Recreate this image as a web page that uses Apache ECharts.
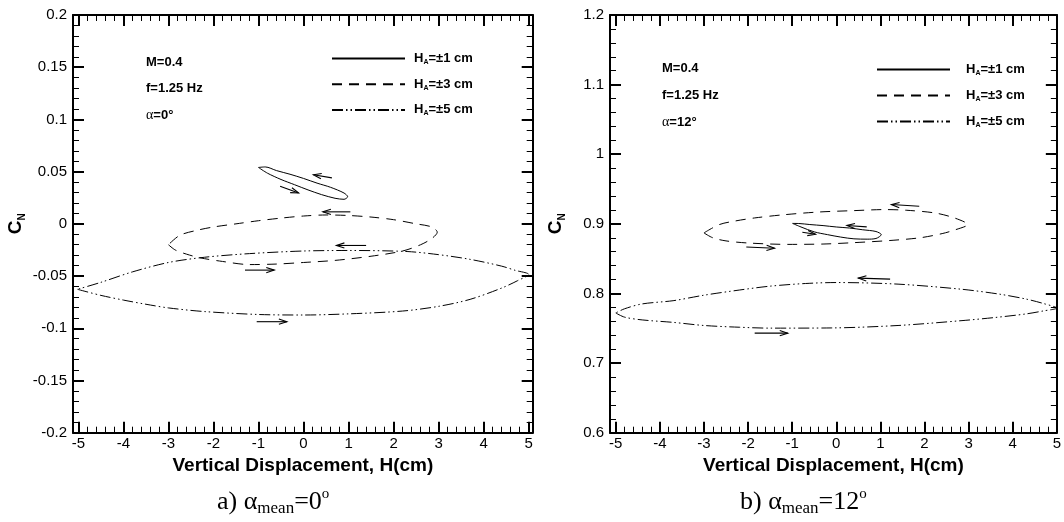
<!DOCTYPE html>
<html>
<head>
<meta charset="utf-8">
<script src="https://cdn.jsdelivr.net/npm/echarts@6/dist/echarts.min.js"></script>
<style>
  html, body { margin: 0; padding: 0; background: #fff; }
  #chart { width: 1064px; height: 522px; }
</style>
</head>
<body>
<div id="chart"></div>
<script>
const FONT = '"Liberation Sans", Arial, Helvetica, sans-serif';
const SERIF = '"Liberation Serif", "Times New Roman", serif';

// Horizontal axis: vertical displacement H (cm)
const xTicks = [-5, -4, -3, -2, -1, 0, 1, 2, 3, 4, 5];
// Vertical axes: normal-force coefficient C_N
const yTicksA0 = [-0.2, -0.15, -0.1, -0.05, 0, 0.05, 0.1, 0.15, 0.2];
const yTicksA12 = [0.6, 0.7, 0.8, 0.9, 1.0, 1.1, 1.2];

// Plunge amplitudes shown in the legends
const amplitudes = [1, 3, 5];
const seriesNames = ['HA1', 'HA3', 'HA5'];

// ---- alpha_mean = 0 deg : hysteresis loops [H, C_N] ----
const loop1_a0 = [
  [-1.0, 0.054], [-0.8, 0.0485], [-0.5, 0.0425], [-0.2, 0.0375], [0.1, 0.0325], [0.4, 0.028],
  [0.7, 0.0245], [0.9, 0.0235], [0.98, 0.026], [0.9, 0.0295], [0.6, 0.035], [0.3, 0.039],
  [0.0, 0.0435], [-0.3, 0.0475], [-0.6, 0.051], [-0.85, 0.0545], [-1.0, 0.054]
];
const loop3_a0 = [
  [-3.0, -0.020], [-2.85, -0.025], [-2.6, -0.029], [-2.3, -0.0325], [-1.8, -0.036], [-1.2, -0.039],
  [-0.6, -0.0385], [0.0, -0.037], [0.7, -0.035], [1.5, -0.031], [2.2, -0.026], [2.6, -0.020],
  [2.85, -0.014], [2.97, -0.008], [2.85, -0.003], [2.5, 0.000], [2.0, 0.004], [1.5, 0.0065],
  [1.0, 0.008], [0.5, 0.0085], [0.0, 0.0075], [-0.5, 0.0055], [-1.0, 0.003], [-1.5, 0.000],
  [-2.0, -0.003], [-2.4, -0.0065], [-2.75, -0.011], [-3.0, -0.020]
];
const loop5_a0 = [
  [-5.02, -0.0627], [-4.5, -0.0685], [-4.0, -0.073], [-3.5, -0.077], [-3.0, -0.0805], [-2.2, -0.084],
  [-1.0, -0.0868], [0.0, -0.0873], [1.0, -0.0862], [2.2, -0.0835], [3.0, -0.079], [3.7, -0.0723],
  [4.4, -0.0615], [4.75, -0.0545], [5.0, -0.0484], [4.7, -0.0445], [4.4, -0.0405], [3.7, -0.034],
  [3.0, -0.0295], [2.3, -0.0265], [1.0, -0.0255], [0.0, -0.026], [-1.2, -0.0285], [-2.2, -0.032],
  [-3.0, -0.037], [-3.8, -0.046], [-4.5, -0.056], [-5.02, -0.0627]
];
// direction arrows [H_from, C_N_from, H_to, C_N_to]
const arrows_a0 = [
  [0.63, 0.044, 0.22, 0.047],
  [-0.52, 0.036, -0.11, 0.0296],
  [1.04, 0.0115, 0.43, 0.0115],
  [-1.3, -0.0443, -0.65, -0.0443],
  [1.39, -0.0207, 0.73, -0.0207],
  [-1.04, -0.0937, -0.37, -0.0937]
];

// ---- alpha_mean = 12 deg ----
const loop1_a12 = [
  [-0.99, 0.9006], [-0.8, 0.8955], [-0.5, 0.8885], [-0.2, 0.8845], [0.1, 0.881], [0.4, 0.8785],
  [0.7, 0.878], [0.9, 0.879], [1.02, 0.8845], [0.9, 0.889], [0.6, 0.8915], [0.3, 0.894],
  [0.0, 0.8955], [-0.3, 0.8975], [-0.6, 0.899], [-0.85, 0.9005], [-0.99, 0.9006]
];
const loop3_a12 = [
  [-3.0, 0.887], [-2.8, 0.880], [-2.5, 0.8755], [-2.0, 0.8725], [-1.1, 0.8705], [-0.3, 0.871],
  [0.4, 0.873], [1.2, 0.876], [1.9, 0.880], [2.4, 0.886], [2.7, 0.8915], [2.98, 0.899],
  [2.7, 0.908], [2.25, 0.9155], [1.6, 0.9195], [1.1, 0.9205], [0.4, 0.919], [-0.4, 0.917],
  [-1.2, 0.913], [-1.85, 0.9085], [-2.3, 0.904], [-2.65, 0.899], [-3.0, 0.887]
];
const loop5_a12 = [
  [-5.0, 0.772], [-4.8, 0.766], [-4.4, 0.762], [-3.7, 0.7585], [-3.0, 0.754], [-2.2, 0.7515],
  [-1.5, 0.7502], [-0.1, 0.7505], [1.4, 0.754], [2.85, 0.761], [3.6, 0.7655], [4.3, 0.7706],
  [4.7, 0.775], [5.0, 0.779], [4.7, 0.7855], [4.3, 0.792], [3.7, 0.799], [2.85, 0.806],
  [1.4, 0.8134], [0.0, 0.8157], [-0.7, 0.8143], [-1.5, 0.8105], [-2.2, 0.8049], [-3.0, 0.7975],
  [-3.7, 0.7896], [-4.4, 0.785], [-4.8, 0.778], [-5.0, 0.772]
];
const arrows_a12 = [
  [1.88, 0.9253, 1.25, 0.9277],
  [0.69, 0.8957, 0.24, 0.8977],
  [-0.77, 0.888, -0.47, 0.885],
  [-2.04, 0.8667, -1.4, 0.8649],
  [1.22, 0.8206, 0.5, 0.822],
  [-1.85, 0.743, -1.1, 0.743]
];

const lineTypes = ['solid', [10, 7], [11, 3, 1.5, 3, 1.5, 3]];

const black = '#000';

function minorValues(major) {
  const out = [];
  for (let i = 0; i < major.length - 1; i++) {
    for (let k = 1; k < 5; k++) {
      out.push(+(major[i] + k * (major[i + 1] - major[i]) / 5).toFixed(4));
    }
  }
  return out;
}

// four horizontal axes per panel: bottom/top, major/minor ticks
function xAxesFor(gi, range) {
  const minor = minorValues(xTicks);
  const base = { type: 'value', gridIndex: gi, min: range[0], max: range[1],
    splitLine: { show: false }, minorSplitLine: { show: false } };
  const majorTick = { show: true, inside: true, length: 11, customValues: xTicks, lineStyle: { color: black, width: 2 } };
  const minorTick = { show: true, inside: true, length: 6, customValues: minor, lineStyle: { color: black, width: 1 } };
  return [
    Object.assign({}, base, {
      position: 'bottom',
      axisLine: { show: true, onZero: false, lineStyle: { color: black, width: 2 } },
      axisTick: majorTick,
      axisLabel: { show: true, customValues: xTicks, margin: 4, fontSize: 15, color: black, fontFamily: FONT },
      name: 'Vertical Displacement, H(cm)', nameLocation: 'middle', nameGap: 19,
      nameTextStyle: { fontSize: 19, fontWeight: 'bold', color: black, fontFamily: FONT }
    }),
    Object.assign({}, base, { position: 'bottom', axisLine: { show: false, onZero: false }, axisTick: minorTick, axisLabel: { show: false } }),
    Object.assign({}, base, {
      position: 'top',
      axisLine: { show: true, onZero: false, lineStyle: { color: black, width: 2 } },
      axisTick: majorTick, axisLabel: { show: false }
    }),
    Object.assign({}, base, { position: 'top', axisLine: { show: false, onZero: false }, axisTick: minorTick, axisLabel: { show: false } })
  ];
}

function yAxesFor(gi, ticks, step, nameGap) {
  const base = {
    type: 'value', gridIndex: gi, min: ticks[0], max: ticks[ticks.length - 1], interval: step,
    splitLine: { show: false }, minorSplitLine: { show: false },
    axisLine: { show: true, onZero: false, lineStyle: { color: black, width: 2 } },
    axisTick: { show: true, inside: true, length: 11, lineStyle: { color: black, width: 2 } },
    minorTick: { show: true, splitNumber: 5, length: 6, lineStyle: { color: black, width: 1 } }
  };
  return [
    Object.assign({}, base, {
      position: 'left',
      axisLabel: { show: true, margin: 6, fontSize: 15, color: black, fontFamily: FONT },
      name: '{c|C}{n|N}', nameLocation: 'middle', nameGap: nameGap, nameRotate: 90,
      nameTextStyle: {
        rich: {
          c: { fontSize: 19, fontWeight: 'bold', color: black, fontFamily: FONT, lineHeight: 22 },
          n: { fontSize: 10, fontWeight: 'bold', color: black, fontFamily: FONT, lineHeight: 12, verticalAlign: 'bottom' }
        }
      }
    }),
    Object.assign({}, base, { position: 'right', axisLabel: { show: false } })
  ];
}

function loopSeries(gi, loops) {
  return loops.map((pts, i) => ({
    type: 'line', name: seriesNames[i],
    xAxisIndex: gi * 4, yAxisIndex: gi * 2,
    data: pts, symbol: 'none', showSymbol: false, smooth: 0.3,
    silent: true, clip: false,
    lineStyle: { color: black, width: 1, type: lineTypes[i] },
    itemStyle: { color: black }
  }));
}

function arrowSeries(gi, list) {
  return {
    type: 'custom', xAxisIndex: gi * 4, yAxisIndex: gi * 2, silent: true, z: 5,
    dimensions: ['x1', 'y1', 'x2', 'y2'],
    encode: { x: [0, 2], y: [1, 3] },
    data: list,
    renderItem: function (params, api) {
      const p1 = api.coord([api.value(0), api.value(1)]);
      const p2 = api.coord([api.value(2), api.value(3)]);
      const dx = p2[0] - p1[0], dy = p2[1] - p1[1];
      const len = Math.sqrt(dx * dx + dy * dy) || 1;
      const ux = dx / len, uy = dy / len;
      const hl = 8, hw = 2.6;
      const bx = p2[0] - ux * hl, by = p2[1] - uy * hl;
      const a = [bx - uy * hw, by + ux * hw];
      const b = [bx + uy * hw, by - ux * hw];
      return {
        type: 'group',
        children: [
          { type: 'line', shape: { x1: p1[0], y1: p1[1], x2: p2[0], y2: p2[1] }, style: { stroke: black, lineWidth: 1.1 } },
          { type: 'polyline', shape: { points: [a, p2, b] }, style: { stroke: black, fill: null, lineWidth: 1.1 } }
        ]
      };
    }
  };
}

const legendRich = (lead) => ({
  h: { fontSize: 13, fontWeight: 'bold', color: black, fontFamily: FONT, lineHeight: 14, padding: [0, 0, 0, lead] },
  b: { fontSize: 13, fontWeight: 'bold', color: black, fontFamily: FONT, lineHeight: 14 },
  s: { fontSize: 7, fontWeight: 'bold', color: black, fontFamily: FONT, lineHeight: 8, verticalAlign: 'bottom' }
});
function legendText(name) {
  const amp = amplitudes[seriesNames.indexOf(name)];
  return '{h|H}{s|A}{b|=\u00b1' + amp + ' cm}';
}
function makeLegend(left, top, gap, lead) {
  return {
    left: left, top: top, padding: 0, orient: 'vertical', itemWidth: 73, itemHeight: 14, itemGap: gap,
    data: seriesNames, selectedMode: false, formatter: legendText,
    itemStyle: { opacity: 0 },
    textStyle: { rich: legendRich(lead) }
  };
}

const annRich = {
  b: { fontSize: 13, fontWeight: 'bold', color: black, fontFamily: FONT, lineHeight: 15 },
  g: { fontSize: 14, fontWeight: 'normal', color: black, fontFamily: SERIF, lineHeight: 15 }
};
function annotation(text, left, top) {
  return { text: text, left: left, top: top, padding: 0, textStyle: { rich: annRich } };
}
const capRich = {
  t: { fontSize: 26, fontWeight: 'normal', color: black, fontFamily: SERIF, lineHeight: 30 },
  s: { fontSize: 17, fontWeight: 'normal', color: black, fontFamily: SERIF, lineHeight: 18, verticalAlign: 'bottom' },
  p: { fontSize: 15, fontWeight: 'normal', color: black, fontFamily: SERIF, lineHeight: 16, verticalAlign: 'top' }
};
function caption(label, deg, left, top) {
  return { text: '{t|' + label + ') \u03b1}{s|mean}{t|=' + deg + '}{p|o}', left: left, top: top, padding: 0, textStyle: { fontWeight: 'normal', rich: capRich } };
}

const chart = echarts.init(document.getElementById('chart'), null, { renderer: 'canvas' });
chart.setOption({
  animation: false,
  backgroundColor: '#fff',
  grid: [
    { left: 73, top: 15, width: 459.7, height: 417.7 },
    { left: 610, top: 15, width: 452, height: 417.7 }
  ],
  xAxis: xAxesFor(0, [-5.12, 5.09]).concat(xAxesFor(1, [-5.13, 5.0])),
  yAxis: yAxesFor(0, yTicksA0, 0.05, 46).concat(yAxesFor(1, yTicksA12, 0.1, 43)),
  legend: [makeLegend(331, 52, 12.2, 4), makeLegend(876, 63, 12.5, 11)],
  title: [
    annotation('{b|M=0.4}', 146, 55),
    annotation('{b|f=1.25 Hz}', 146, 81),
    annotation('{g|\u03b1}{b|=0\u00b0}', 146, 108),
    annotation('{b|M=0.4}', 662, 61),
    annotation('{b|f=1.25 Hz}', 662, 88),
    annotation('{g|\u03b1}{b|=12\u00b0}', 662, 115),
    caption('a', '0', 217, 487),
    caption('b', '12', 740, 487)
  ],
  series: loopSeries(0, [loop1_a0, loop3_a0, loop5_a0])
    .concat([arrowSeries(0, arrows_a0)])
    .concat(loopSeries(1, [loop1_a12, loop3_a12, loop5_a12]))
    .concat([arrowSeries(1, arrows_a12)])
});
</script>
</body>
</html>
